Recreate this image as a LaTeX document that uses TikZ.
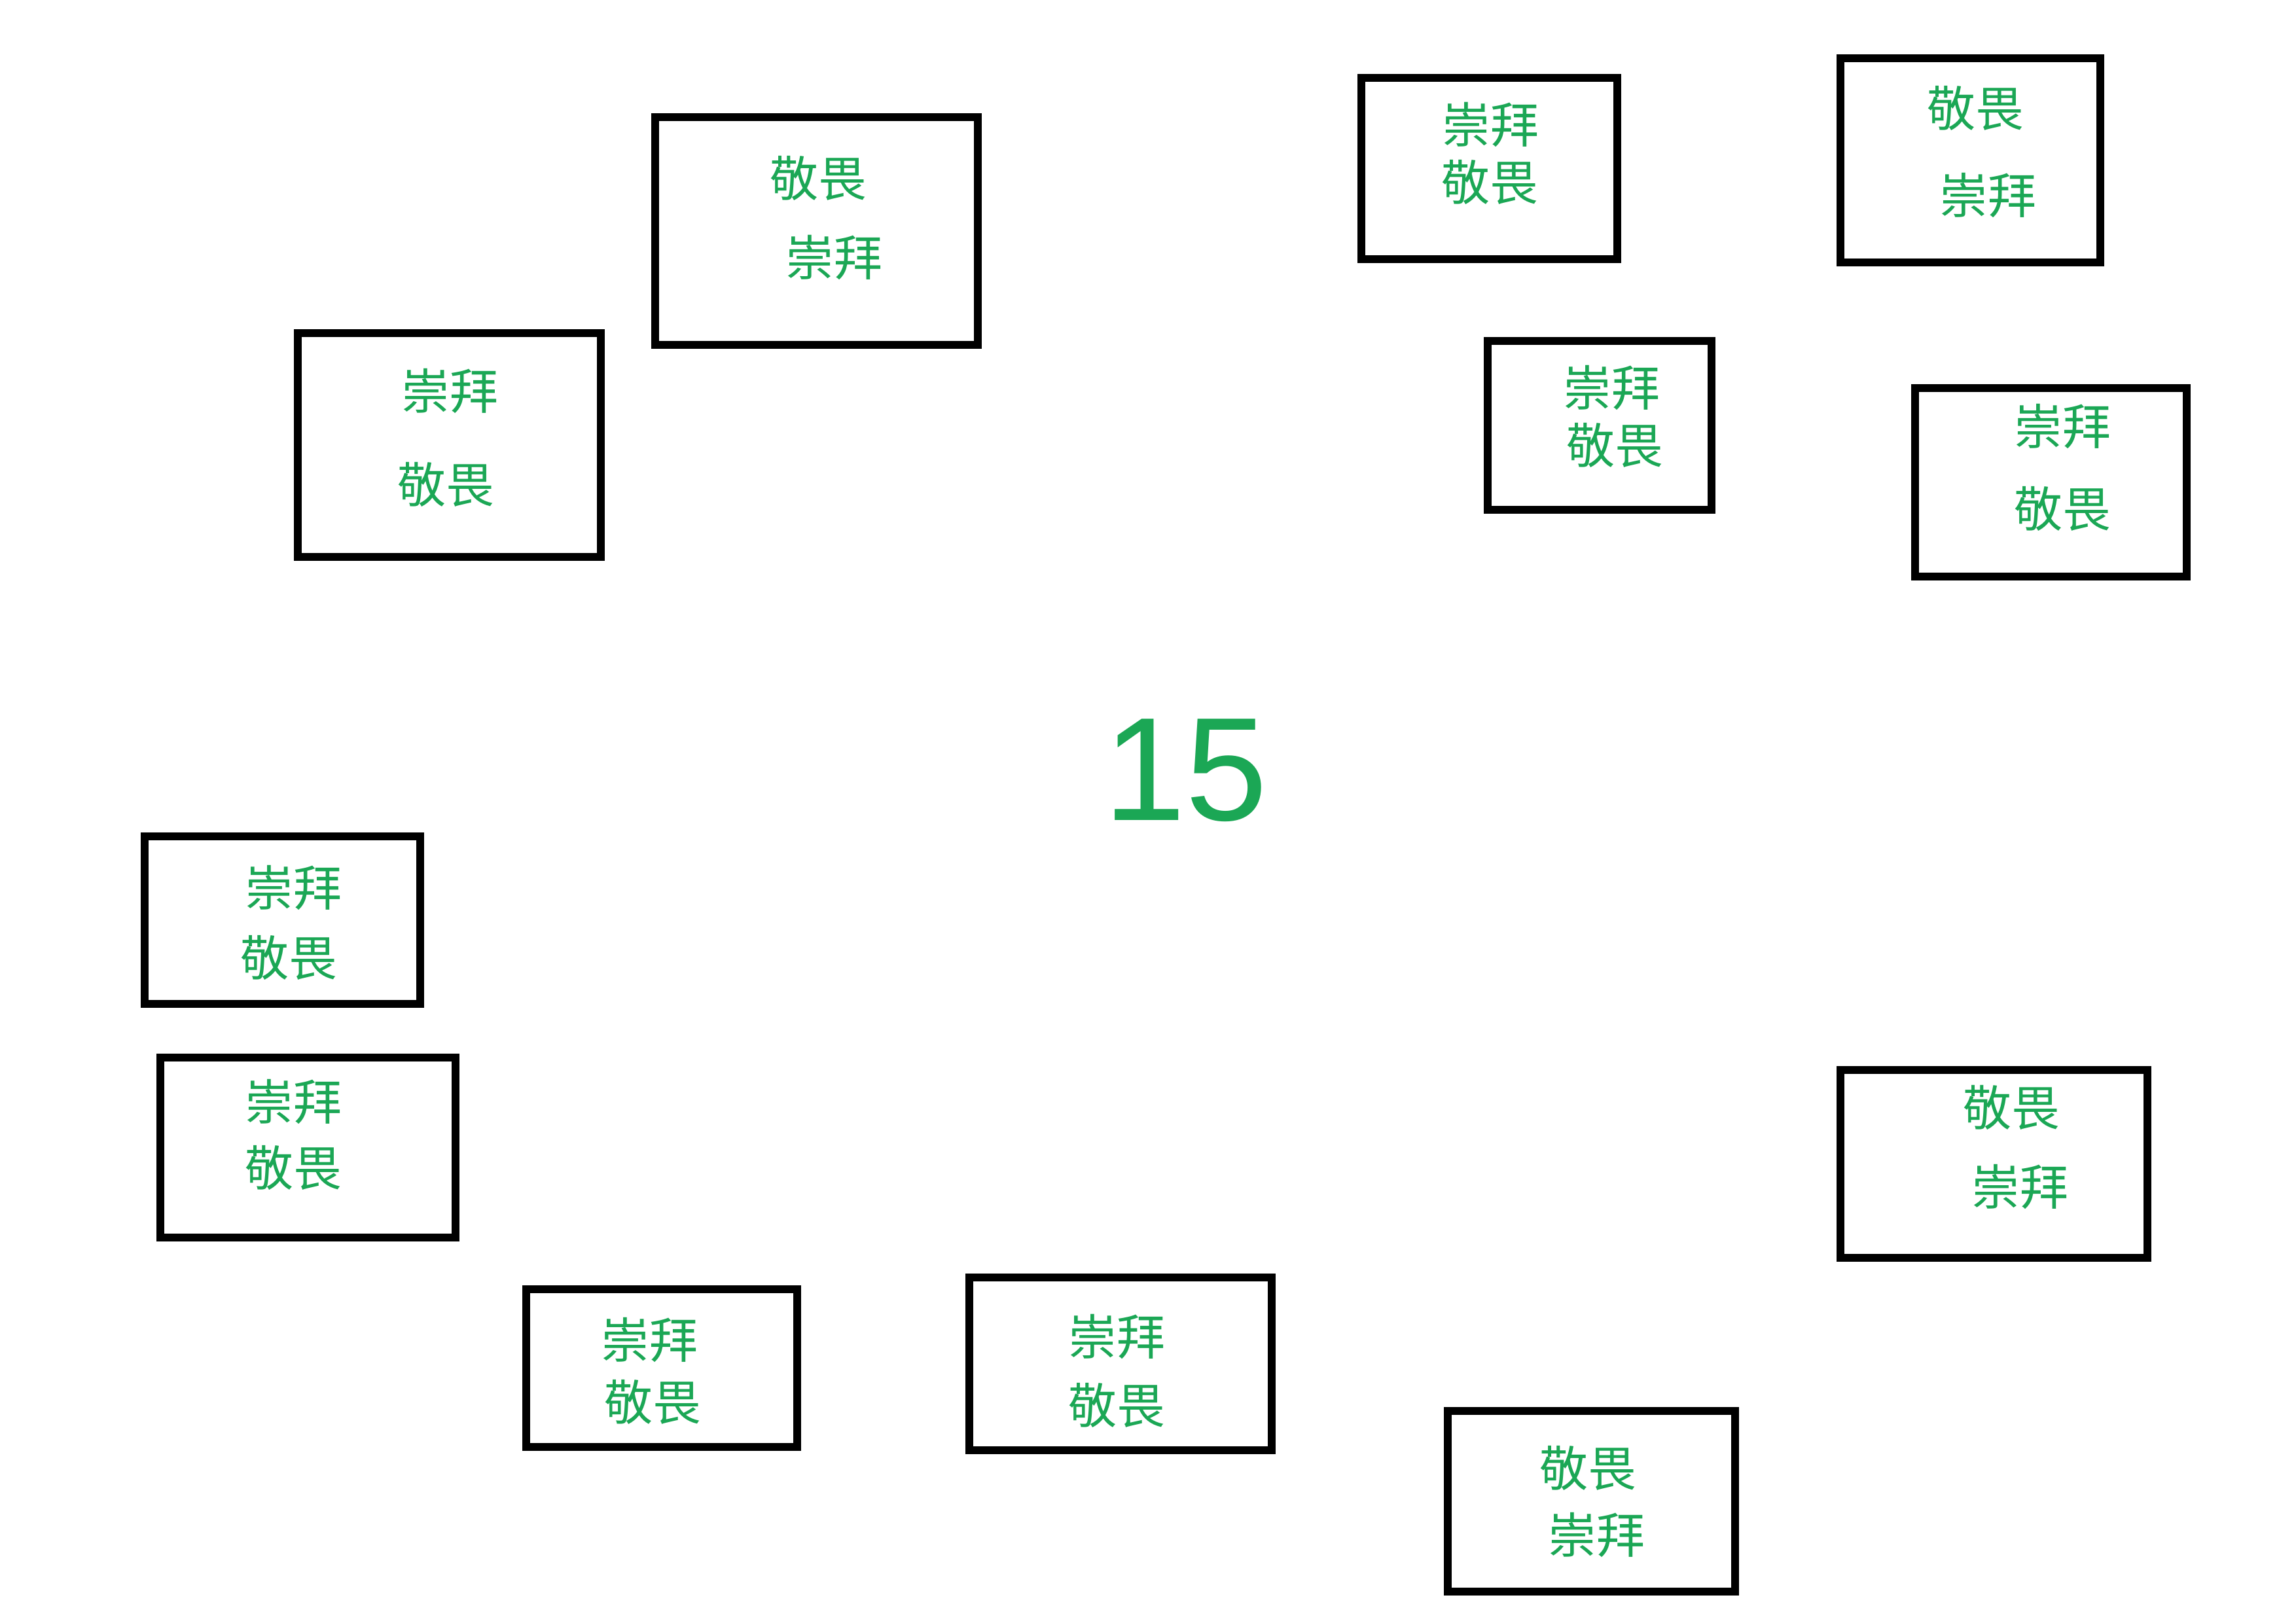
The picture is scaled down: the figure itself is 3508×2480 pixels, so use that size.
\documentclass[tikz,border=0pt]{standalone}
\usepackage{fontspec}
\setmainfont{Liberation Sans}
\newfontfamily\cjk{Noto Sans CJK SC}
\definecolor{txtgreen}{RGB}{27,167,85}
\begin{document}
\begin{tikzpicture}[x=1pt,y=-1pt,
  box/.style={draw=black,line width=12pt,rectangle,inner sep=0pt},
  cjkline/.style={text=txtgreen,font=\cjk\fontsize{74}{80}\selectfont,inner sep=0pt,anchor=center},
  num/.style={text=txtgreen,font=\fontsize{225}{270}\selectfont,inner sep=0pt,anchor=base}]
\fill[white] (0,0) rectangle (3508,2480);
\useasboundingbox (0,0) rectangle (3508,2480);
% boxes
\node[box,minimum width=463pt,minimum height=342pt] (bA) at (686.5,680) {};
\node[box,minimum width=493pt,minimum height=348pt] (bB) at (1247.5,353) {};
\node[box,minimum width=391pt,minimum height=277pt] (bC) at (2275.5,257.5) {};
\node[box,minimum width=397pt,minimum height=312pt] (bD) at (3010.5,245) {};
\node[box,minimum width=342pt,minimum height=258pt] (bE) at (2444,650) {};
\node[box,minimum width=415pt,minimum height=288pt] (bF) at (3133.5,737) {};
\node[box,minimum width=421pt,minimum height=256pt] (bG) at (431.5,1406) {};
\node[box,minimum width=451pt,minimum height=275pt] (bH) at (470.5,1753.5) {};
\node[box,minimum width=414pt,minimum height=241pt] (bI) at (1011,2090.5) {};
\node[box,minimum width=462pt,minimum height=264pt] (bJ) at (1712,2084) {};
\node[box,minimum width=439pt,minimum height=276pt] (bK) at (2431.5,2294) {};
\node[box,minimum width=469pt,minimum height=287pt] (bL) at (3046.5,1778.5) {};
% texts
\node[cjkline] (tA1) at (687,597) {崇拜};
\node[cjkline] (tA2) at (681,740) {敬畏};
\node[cjkline] (tB1) at (1250,272) {敬畏};
\node[cjkline] (tB2) at (1274,393) {崇拜};
\node[cjkline] (tC1) at (2277,190) {崇拜};
\node[cjkline] (tC2) at (2276,278) {敬畏};
\node[cjkline] (tD1) at (3018,165) {敬畏};
\node[cjkline] (tD2) at (3037,298) {崇拜};
\node[cjkline] (tE1) at (2462,592) {崇拜};
\node[cjkline] (tE2) at (2467,680) {敬畏};
\node[cjkline] (tF1) at (3151,651) {崇拜};
\node[cjkline] (tF2) at (3151,777) {敬畏};
\node[cjkline] (tG1) at (448,1356) {崇拜};
\node[cjkline] (tG2) at (441,1463) {敬畏};
\node[cjkline] (tH1) at (448,1683) {崇拜};
\node[cjkline] (tH2) at (448,1784) {敬畏};
\node[cjkline] (tI1) at (992,2047) {崇拜};
\node[cjkline] (tI2) at (997,2142) {敬畏};
\node[cjkline] (tJ1) at (1706,2042) {崇拜};
\node[cjkline] (tJ2) at (1706,2147) {敬畏};
\node[cjkline] (tK1) at (2426,2243) {敬畏};
\node[cjkline] (tK2) at (2439,2345) {崇拜};
\node[cjkline] (tL1) at (3073,1692) {敬畏};
\node[cjkline] (tL2) at (3086,1813) {崇拜};
% center number
\node[num] (n15) at (1812,1253) {15};
\end{tikzpicture}
\end{document}
